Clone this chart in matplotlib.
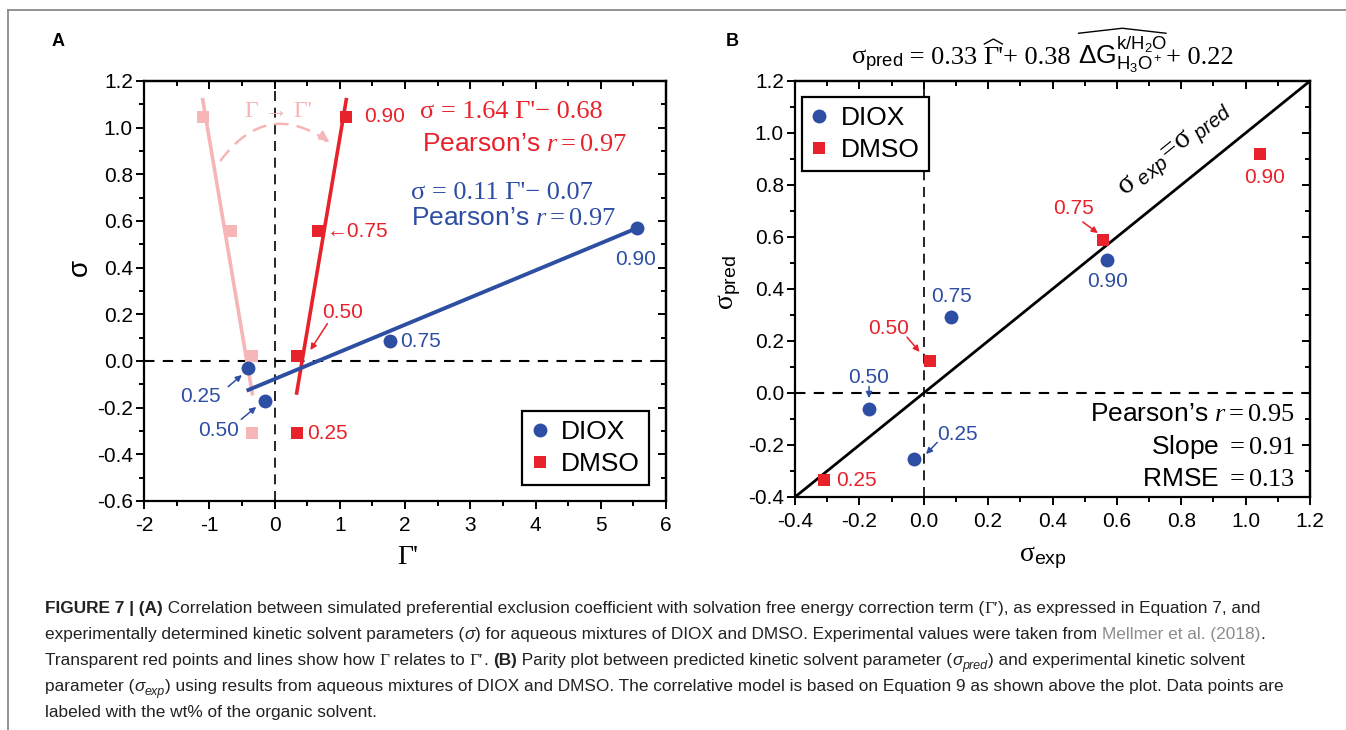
import matplotlib
matplotlib.use('Agg')
import matplotlib.pyplot as plt
from matplotlib.patches import FancyArrowPatch
from matplotlib.lines import Line2D
from matplotlib.ticker import MultipleLocator
import numpy as np

plt.rcParams['font.family'] = ['Liberation Sans', 'DejaVu Sans']
plt.rcParams['mathtext.fontset'] = 'custom'
plt.rcParams['mathtext.rm'] = 'Liberation Serif'
plt.rcParams['mathtext.it'] = 'Liberation Serif:italic'
plt.rcParams['mathtext.sf'] = 'Liberation Sans'
plt.rcParams['mathtext.tt'] = 'Liberation Sans:italic'
plt.rcParams['mathtext.bf'] = 'Liberation Serif:bold'

BLUE = '#2e4ea3'
RED = '#e8222b'
PINK = '#f6b5b7'
CAP = '#222222'

# ---------------- data ----------------
wt_labels = ['0.25', '0.50', '0.75', '0.90']
# Panel A : Gamma' vs sigma
diox_gprime = [-0.40, -0.15, 1.77, 5.56]
diox_sigma = [-0.03, -0.17, 0.086, 0.57]
dmso_gprime = [0.34, 0.35, 0.67, 1.10]
dmso_sigma = [-0.31, 0.02, 0.557, 1.046]
dmso_gamma = [-0.34, -0.34, -0.67, -1.10]
# fitted lines (end points)
diox_fit_x = [-0.40, 5.56]
diox_fit_y = [-0.124, 0.57]
dmso_fit_x = [0.34, 1.10]
dmso_fit_y = [-0.137, 1.12]
gamma_fit_x = [-0.34, -1.10]
gamma_fit_y = [-0.14, 1.12]
# Panel B : sigma_exp (= sigma above) vs sigma_pred
diox_pred = [-0.254, -0.062, 0.292, 0.512]
dmso_pred = [-0.335, 0.123, 0.588, 0.919]

W, H = 1346, 730
fig = plt.figure(figsize=(W / 100, H / 100), dpi=100)
renderer = fig.canvas.get_renderer()
serif = ['Liberation Serif', 'DejaVu Serif']


def px_axes(l, t, r, b):
    return [l / W, 1 - b / H, (r - l) / W, (b - t) / H]


def style_axes(ax, xmaj, xmin, ymaj, ymin):
    for s in ax.spines.values():
        s.set_linewidth(1.6)
    ax.xaxis.set_major_locator(MultipleLocator(xmaj))
    ax.xaxis.set_minor_locator(MultipleLocator(xmin))
    ax.yaxis.set_major_locator(MultipleLocator(ymaj))
    ax.yaxis.set_minor_locator(MultipleLocator(ymin))
    ax.tick_params(which='both', direction='out', width=1.4, labelsize=15)
    ax.tick_params(which='major', length=6)
    ax.tick_params(which='minor', length=3.5)
    ax.tick_params(axis='x', pad=5)
    ax.tick_params(axis='y', pad=2)
    sx = ax.secondary_xaxis('top')
    sx.xaxis.set_major_locator(MultipleLocator(xmaj))
    sx.xaxis.set_minor_locator(MultipleLocator(xmin))
    sx.tick_params(which='both', direction='in', width=1.4, labeltop=False)
    sx.tick_params(which='major', length=6)
    sx.tick_params(which='minor', length=3.5)
    sy = ax.secondary_yaxis('right')
    sy.yaxis.set_major_locator(MultipleLocator(ymaj))
    sy.yaxis.set_minor_locator(MultipleLocator(ymin))
    sy.tick_params(which='both', direction='in', width=1.4, labelright=False)
    sy.tick_params(which='major', length=6)
    sy.tick_params(which='minor', length=3.5)
    for s in list(sx.spines.values()) + list(sy.spines.values()):
        s.set_linewidth(1.6)


def advance(txt, kw, fs):
    t1 = fig.text(0, 0, txt + '|', fontsize=fs, **kw)
    t2 = fig.text(0, 0, '|', fontsize=fs, **kw)
    w = t1.get_window_extent(renderer).width - t2.get_window_extent(renderer).width
    t1.remove()
    t2.remove()
    return w


# ---------------- Panel A ----------------
axA = fig.add_axes(px_axes(144, 81, 666, 501))
axA.set_xlim(-2, 6)
axA.set_ylim(-0.6, 1.2)
style_axes(axA, 1, 0.5, 0.2, 0.1)
axA.yaxis.set_major_formatter(matplotlib.ticker.FormatStrFormatter('%.1f'))
axA.xaxis.set_major_formatter(matplotlib.ticker.FuncFormatter(lambda v, p: '%d' % round(v)))

axA.axhline(0, color='black', lw=1.5, ls=(0, (5, 4)), zorder=1)
axA.axvline(0, color='black', lw=1.2, ls=(0, (6, 4)), zorder=1)

axA.plot(gamma_fit_x, gamma_fit_y, color=PINK, lw=2.6, zorder=2)
axA.plot(dmso_fit_x, dmso_fit_y, color=RED, lw=2.6, zorder=3)
axA.plot(diox_fit_x, diox_fit_y, color=BLUE, lw=2.8, zorder=3)
axA.plot(dmso_gamma, dmso_sigma, 's', color=PINK, ms=8.5, mew=0, zorder=4)
axA.plot(dmso_gprime, dmso_sigma, 's', color=RED, ms=8.5, mew=0, zorder=5, label='DMSO')
axA.plot(diox_gprime, diox_sigma, 'o', color=BLUE, ms=10, mew=0, zorder=5, label='DIOX')

arc = FancyArrowPatch((-0.85, 0.85), (0.88, 0.93), connectionstyle='arc3,rad=-0.5',
                      arrowstyle='-|>', mutation_scale=16, color=PINK, lw=1.8,
                      linestyle=(0, (5, 4)), zorder=2)
axA.add_patch(arc)
axA.text(0.06, 1.07, "Γ → Γ'", color=PINK, fontsize=17, ha='center', va='center',
         family=serif, zorder=3)

lab = dict(fontsize=15)
axA.text(1.37, 1.046, wt_labels[3], color=RED, ha='left', va='center', **lab)
axA.text(0.80, 0.557, '←' + wt_labels[2], color=RED, ha='left', va='center', **lab)
axA.text(1.05, 0.21, wt_labels[1], color=RED, ha='center', va='center', **lab)
axA.text(0.50, -0.31, wt_labels[0], color=RED, ha='left', va='center', **lab)
axA.text(1.93, 0.083, wt_labels[2], color=BLUE, ha='left', va='center', **lab)
axA.text(5.54, 0.433, wt_labels[3], color=BLUE, ha='center', va='center', **lab)
axA.text(-1.14, -0.154, wt_labels[0], color=BLUE, ha='center', va='center', **lab)
axA.text(-0.85, -0.30, wt_labels[1], color=BLUE, ha='center', va='center', **lab)

arw = dict(arrowstyle='-|>', mutation_scale=9, lw=1.1, shrinkA=0, shrinkB=0)
axA.annotate('', xy=(0.55, 0.047), xytext=(0.81, 0.16), arrowprops=dict(color=RED, **arw))
axA.annotate('', xy=(-0.50, -0.06), xytext=(-0.71, -0.11), arrowprops=dict(color=BLUE, **arw))
axA.annotate('', xy=(-0.28, -0.197), xytext=(-0.51, -0.25), arrowprops=dict(color=BLUE, **arw))

axA.text(2.23, 1.067, "σ = 1.64 Γ'− 0.68", color=RED, fontsize=19, family=serif,
         ha='left', va='center')
axA.text(2.26, 0.93, "Pearson’s $r = 0.97$", color=RED, fontsize=19, ha='left', va='center')
axA.text(2.09, 0.72, "σ = 0.11 Γ'− 0.07", color=BLUE, fontsize=19, family=serif,
         ha='left', va='center')
axA.text(2.09, 0.613, "Pearson’s $r = 0.97$", color=BLUE, fontsize=19, ha='left', va='center')

legA = axA.legend(handles=axA.lines[-1:] + axA.lines[-2:-1], loc='lower right',
                  bbox_to_anchor=(0.967, 0.037), borderaxespad=0, fontsize=19,
                  fancybox=False, edgecolor='black', framealpha=1, handlelength=0.6,
                  handletextpad=0.5, borderpad=0.35, labelspacing=0.3)
legA.get_frame().set_linewidth(1.6)

fig.text(80 / W, 1 - 267 / H, 'σ', fontsize=20, rotation=90, ha='center', va='center')
fig.text(408 / W, 1 - 558 / H, "Γ'", fontsize=20, family=serif, ha='center', va='center')
fig.text(58 / W, 1 - 42 / H, 'A', fontsize=13, fontweight='bold', ha='center', va='center')

# ---------------- Panel B ----------------
axB = fig.add_axes(px_axes(795, 81, 1310, 497))
axB.set_xlim(-0.4, 1.2)
axB.set_ylim(-0.4, 1.2)
style_axes(axB, 0.2, 0.1, 0.2, 0.1)
axB.xaxis.set_major_formatter(matplotlib.ticker.FormatStrFormatter('%.1f'))
axB.yaxis.set_major_formatter(matplotlib.ticker.FormatStrFormatter('%.1f'))

axB.axhline(0, color='black', lw=1.5, ls=(0, (5, 4)), zorder=1)
axB.axvline(0, color='black', lw=1.2, ls=(0, (6, 4)), zorder=1)
axB.plot([-0.4, 1.2], [-0.4, 1.2], color='black', lw=2, zorder=2)
axB.plot(diox_sigma, diox_pred, 'o', color=BLUE, ms=10, mew=0, zorder=5, label='DIOX')
axB.plot(dmso_sigma, dmso_pred, 's', color=RED, ms=8.5, mew=0, zorder=5, label='DMSO')

axB.text(1.06, 0.827, wt_labels[3], color=RED, ha='center', va='center', **lab)
axB.text(0.465, 0.71, wt_labels[2], color=RED, ha='center', va='center', **lab)
axB.text(0.57, 0.43, wt_labels[3], color=BLUE, ha='center', va='center', **lab)
axB.text(0.085, 0.37, wt_labels[2], color=BLUE, ha='center', va='center', **lab)
axB.text(-0.11, 0.25, wt_labels[1], color=RED, ha='center', va='center', **lab)
axB.text(-0.17, 0.058, wt_labels[1], color=BLUE, ha='center', va='center', **lab)
axB.text(0.105, -0.158, wt_labels[0], color=BLUE, ha='center', va='center', **lab)
axB.text(-0.273, -0.335, wt_labels[0], color=RED, ha='left', va='center', **lab)

axB.annotate('', xy=(0.541, 0.615), xytext=(0.494, 0.658), arrowprops=dict(color=RED, **arw))
axB.annotate('', xy=(-0.013, 0.158), xytext=(-0.052, 0.215), arrowprops=dict(color=RED, **arw))
axB.annotate('', xy=(-0.17, -0.02), xytext=(-0.17, 0.025), arrowprops=dict(color=BLUE, **arw))
axB.annotate('', xy=(0.007, -0.235), xytext=(0.042, -0.19), arrowprops=dict(color=BLUE, **arw))

axB.text(1.153, -0.08, "Pearson’s $r = 0.95$", fontsize=19, ha='right', va='center')
axB.text(1.153, -0.208, "Slope $= 0.91$", fontsize=19, ha='right', va='center')
axB.text(1.153, -0.33, "RMSE $= 0.13$", fontsize=19, ha='right', va='center')

p0, p1 = axB.transData.transform([(0, 0), (1, 1)])
ang = np.degrees(np.arctan2(p1[1] - p0[1], p1[0] - p0[0]))
axB.annotate(r"$\mathrm{\sigma}_{\ \mathtt{exp}}\!=\!\mathrm{\sigma}_{\ \mathtt{pred}}$",
             xy=(0.84, 0.84), xytext=(-19, 24), textcoords='offset pixels', rotation=ang,
             rotation_mode='anchor', ha='center', va='center', fontsize=21)

legB = axB.legend(loc='upper left', bbox_to_anchor=(0.014, 0.962), borderaxespad=0,
                  fontsize=19, fancybox=False, edgecolor='black', framealpha=1,
                  handlelength=0.6, handletextpad=0.5, borderpad=0.35, labelspacing=0.3)
legB.get_frame().set_linewidth(1.6)

# title equation, built piece by piece with hats drawn above the hatted parts
title_pieces = [
    (r"$\mathrm{\sigma}_{\mathsf{pred}}$", {}, False),
    (" = 0.33 ", {'family': serif}, False),
    ("Γ'", {'family': serif}, True),
    ("+ 0.38 ", {'family': serif}, False),
    (r"$\mathsf{\Delta G}^{\mathsf{k/H_2O}}_{\mathsf{H_3O^+}}$", {}, True),
    ("+ 0.22", {'family': serif}, False),
]
TFS = 19
x = 851
base_y = 64
for txt, kw, hat in title_pieces:
    t = fig.text(x / W, 1 - base_y / H, txt, fontsize=TFS, ha='left', va='baseline', **kw)
    if hat:
        bb = t.get_window_extent(renderer)
        if txt.startswith('$'):
            top = bb.y1 + 1
            x0, x1 = bb.x0 + 1, bb.x1 - 1
        else:
            top = (H - base_y) + 20
            x0, x1 = bb.x0 + 1, bb.x1 - 1
        xs = np.array([x0, (x0 + x1) / 2, x1]) / W
        ys = np.array([top, top + 5, top]) / H
        fig.add_artist(Line2D(xs, ys, color='black', lw=1.0))
    x += advance(txt, kw, TFS)

fig.text(1043 / W, 1 - 558 / H, r"$\mathrm{\sigma}_{\mathsf{exp}}$", fontsize=20,
         ha='center', va='center')
fig.text(730 / W, 1 - 283 / H, r"$\mathrm{\sigma}_{\mathsf{pred}}$", fontsize=20,
         rotation=90, ha='center', va='center')
fig.text(732 / W, 1 - 42 / H, 'B', fontsize=13, fontweight='bold', ha='center', va='center')

# ---------------- frame ----------------
fig.add_artist(Line2D([8 / W, 8 / W], [0, 1 - 10 / H], color='#8a8a8a', lw=1.3))
fig.add_artist(Line2D([8 / W, 1], [1 - 10 / H, 1 - 10 / H], color='#8a8a8a', lw=1.3))

# ---------------- caption ----------------
CS = 12.4


def caption_line(y_px, pieces, x_px=45):
    x = x_px
    for p in pieces:
        if isinstance(p, str):
            txt, kw = p, {}
        else:
            txt, kw = p
        kw = dict(kw)
        dy = kw.pop('dy', 0)
        fs = kw.pop('size', CS)
        kw.setdefault('color', CAP)
        fig.text(x / W, 1 - (y_px + dy) / H, txt, fontsize=fs, va='baseline', ha='left', **kw)
        x += advance(txt, kw, fs)


B_ = {'fontweight': 'bold'}
SER = {'family': serif}
IT = {'style': 'italic'}
SUB = {'style': 'italic', 'size': 9, 'dy': 4}
GREY = {'color': '#8c8c8c'}
caption_line(613, [('FIGURE 7 | (A)', B_),
                   ' Correlation between simulated preferential exclusion coefficient with solvation free energy correction term (',
                   ('Γ′', SER), '), as expressed in Equation 7, and'])
caption_line(639, ['experimentally determined kinetic solvent parameters (', ('σ', IT),
                   ') for aqueous mixtures of DIOX and DMSO. Experimental values were taken from ',
                   ('Mellmer et al. (2018)', GREY), '.'])
caption_line(665, ['Transparent red points and lines show how ', ('Γ', SER), ' relates to ',
                   ('Γ′', SER), '. ', ('(B)', B_),
                   ' Parity plot between predicted kinetic solvent parameter (', ('σ', IT),
                   ('pred', SUB), ') and experimental kinetic solvent'])
caption_line(691, ['parameter (', ('σ', IT), ('exp', SUB),
                   ') using results from aqueous mixtures of DIOX and DMSO. The correlative model is based on Equation 9 as shown above the plot. Data points are'])
caption_line(717, ['labeled with the wt% of the organic solvent.'])

fig.savefig('out.png', dpi=100)
